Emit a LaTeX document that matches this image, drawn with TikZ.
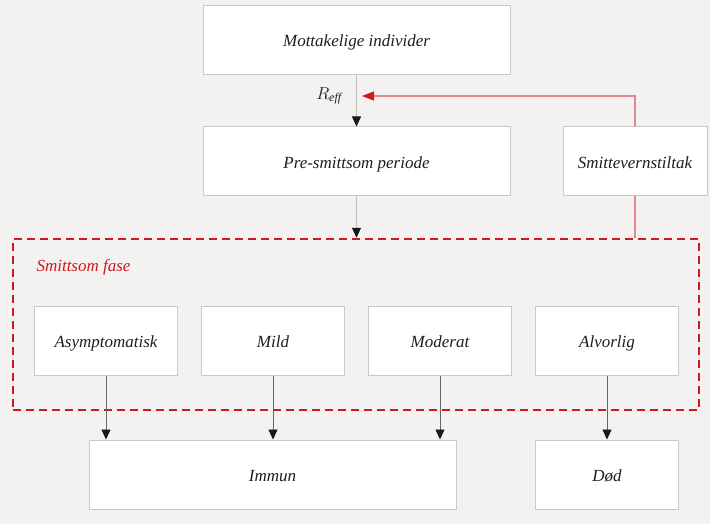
\documentclass[tikz,border=0pt]{standalone}
\usepackage{fontspec}
\setmainfont{Liberation Serif}
\usepackage{xcolor}
\usepackage{tikz}
\usetikzlibrary{arrows.meta}
\definecolor{bggrey}{HTML}{F3F2F1}
\definecolor{boxline}{HTML}{C9C9C9}
\definecolor{darkred}{HTML}{D0181F}
\definecolor{palered}{HTML}{E4878C}
\definecolor{textgrey}{HTML}{1E1E1E}
\newcommand{\lbl}[1]{\textcolor{textgrey}{\itshape #1}}

\begin{document}
\begin{tikzpicture}[x=1pt, y=-1pt, >={Triangle[length=10pt,width=9pt,color=black!90]},
    every node/.style={font=\fontsize{17}{20}\selectfont},
    stagebox/.style={rectangle, draw=boxline, line width=1pt, fill=white, minimum height=69pt,
                     inner sep=0pt, text height=14pt, text depth=0pt},
    flow/.style={->, draw=black!60, line width=0.8pt}]
    % Background and page size
    \useasboundingbox[fill=bggrey] (0,0) rectangle (710,524);

    % Top column
    \node[stagebox, minimum width=307pt] (mott) at (356.5,40) {\lbl{Mottakelige individer}};
    \node[stagebox, minimum width=307pt] (pre) at (356.5,161.5) {\lbl{Pre-smittsom periode}};
    \node[stagebox, minimum width=144pt] (tiltak) at (635,161.5) {\lbl{Smittevernstiltak}};

    % Infectious phase (dashed frame)
    \node[rectangle, draw=darkred, line width=2.5pt, dash pattern=on 8pt off 5pt,
          minimum width=686pt, minimum height=171pt] (fase) at (356,324.5) {};
    \node[anchor=west, text=darkred] (fasename) at (33,267) {\itshape Smittsom fase};

    % Stages in the infectious phase
    \foreach \name/\x/\txt in {asym/106/Asymptomatisk, mild/273/Mild, mod/440/Moderat, alv/607/Alvorlig} {
        \node[stagebox, minimum width=143pt] (\name) at (\x,340.5) {\lbl{\txt}};
    }

    % Outcomes
    \node[stagebox, minimum width=367pt] (immun) at (272.5,474.5) {\lbl{Immun}};
    \node[stagebox, minimum width=143pt] (dod) at (607,474.5) {\lbl{Død}};

    % Arrows down the column
    \draw[flow, draw=black!25] (mott) -- (pre);
    \draw[flow, draw=black!25] (pre) -- (pre.south |- fase.north);
    \node (reff) at (329,96) {\lbl{$R_{\mathit{eff}}$}};

    % Measures act on R_eff
    \coordinate (reffin) at (362,96);
    \draw[->, draw=palered, line width=1.1pt, >={Triangle[length=12pt,width=9pt,color=darkred]}]
        (tiltak.north) |- (reffin);
    \draw[draw=palered, line width=1.1pt] (tiltak.south) -- (tiltak.south |- fase.north);

    % Arrows to outcomes
    \foreach \name in {asym, mild, mod} {
        \draw[flow] (\name.south) -- (\name.south |- immun.north);
    }
    \draw[flow] (alv.south) -- (dod.north);
\end{tikzpicture}
\end{document}
